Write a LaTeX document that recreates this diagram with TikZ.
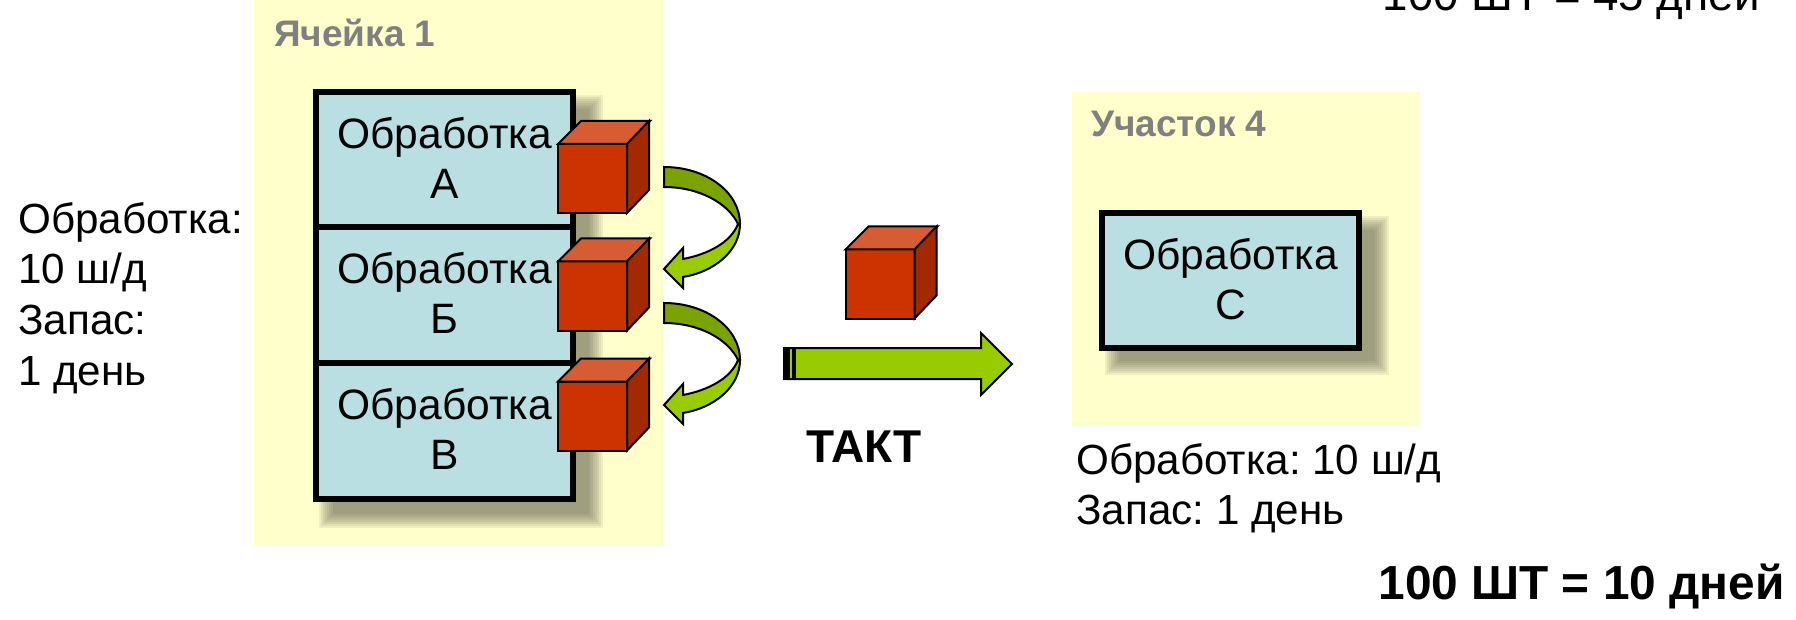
\documentclass[tikz,border=0pt]{standalone}
\usepackage{fontspec}
\setmainfont{Liberation Sans}
\usetikzlibrary{positioning,calc}
\frenchspacing

\definecolor{cellyellow}{HTML}{FFFFCC}
\definecolor{blockblue}{HTML}{B9DFE3}
\definecolor{cubefront}{HTML}{CC3300}
\definecolor{cubetop}{HTML}{D65C33}
\definecolor{cubeside}{HTML}{A32900}
\definecolor{arrowgreen}{HTML}{99CC00}
\definecolor{arrowdark}{HTML}{7AA300}
\definecolor{labelgrey}{HTML}{808080}

% front face is a node, top and side hang on it
\newcommand{\partcube}[2]{
	\node [cube] (#1) at (#2) {};
	\draw [cubeline, fill=cubetop] (#1.north west) -- ++(23,-23) -- ++(69,0) -- (#1.north east) -- cycle;
	\draw [cubeline, fill=cubeside] (#1.north east) -- ++(22,-23) -- ++(0,69) -- (#1.south east) -- cycle;
}
\newcommand{\turnarrow}[1]{
	\begin{scope}[shift={(#1)}]
		\draw [cubeline, fill=arrowdark] (0,0) .. controls (42,0) and (76,25) .. (76,57) -- (74,57) .. controls (64,36) and (35,20) .. (0,20) -- cycle;
		\draw [cubeline, fill=arrowgreen] (76,57) .. controls (76,84) and (50,105) .. (19,110) -- (19,121) -- (0,102) -- (19,81) -- (19,92) .. controls (45,87) and (67,75) .. (74,57) -- cycle;
	\end{scope}
}
\newcommand{\softshadow}[2]{
	\foreach \k in {0,2,...,14}
		\fill [black!60!cellyellow, opacity=0.11] ($(#1)+(3+\k,3+\k)$) rectangle ($(#2)+(30-\k,29-\k)$);
}

\begin{document}
\begin{tikzpicture}[x=1pt,y=-1pt]
	\tikzstyle{cell} = [fill=cellyellow, draw=none, inner sep=0pt, outer sep=0pt]
	\tikzstyle{block} = [rectangle, draw, line width=6pt, fill=blockblue, align=center, inner sep=0pt, outer sep=0pt, minimum width=257pt, font=\fontsize{42.5}{50}\selectfont, execute at end node={\rule[-4pt]{0pt}{4pt}}]
	\tikzstyle{cube} = [rectangle, draw, line width=2pt, fill=cubefront, inner sep=0pt, outer sep=0pt, minimum width=69pt, minimum height=69pt]
	\tikzstyle{cubeline} = [draw, line width=2pt, line join=miter]
	\tikzstyle{note} = [align=left, inner sep=0pt, anchor=north west, font=\fontsize{42.2}{50.7}\selectfont]
	\tikzstyle{title} = [inner sep=0pt, anchor=north west, text=labelgrey, font=\fontsize{37}{40}\selectfont\bfseries]
	\tikzstyle{result} = [inner sep=0pt, font=\fontsize{47.8}{54}\selectfont\bfseries]

	\useasboundingbox (0,0) rectangle (1796,620);

	\node [cell, minimum width=409pt, minimum height=545pt, anchor=north west] (cell) at (254,0) {};
	\node [cell, minimum width=348pt, minimum height=334pt, anchor=north west] (area) at (1072,92) {};
	\node [title] (celltitle) at (274,18.5) {Ячейка 1};
	\node [title] (areatitle) at (1091,110.5) {Участок 4};

	\softshadow{316,92}{573,499}
	\softshadow{1102,213}{1359,346}

	\node [block, minimum height=135.5pt, anchor=north west] (proca) at (316,92) {Обработка \\ А};
	\node [block, minimum height=135.5pt, below=0pt of proca] (procb) {Обработка \\ Б};
	\node [block, minimum height=135.5pt, below=0pt of procb] (procv) {Обработка \\ В};
	\node [block, minimum height=135pt, anchor=north west] (procc) at (1102,213) {Обработка \\ С};

	\partcube{cubea}{592.5,178.5}
	\partcube{cubeb}{592.5,296}
	\partcube{cubev}{592.5,416}
	\partcube{cubemove}{880,284}

	\turnarrow{664,167}
	\turnarrow{664,303}

	% takt arrow with its striped tail
	\draw [cubeline, fill=arrowgreen] (784,348) -- (981,348) -- (981,333) -- (1012,364) -- (981,395) -- (981,379) -- (784,379) -- cycle;
	\fill (784,348) rectangle (790,379);
	\fill (792,348) rectangle (796,379);

	\node [note] (lefttext) at (18,202) {Обработка:\\10 ш/д\\Запас:\\1 день};
	\node [note] (areatext) at (1076,443) {Обработка: 10 ш/д\\Запас: 1 день};
	\node [result, font=\fontsize{46}{50}\selectfont\bfseries] (takt) at (864,447) {ТАКТ};
	\node [result, anchor=base east, font=\fontsize{45.7}{50}\selectfont] (before) at (1760,11) {100 ШТ = 45 дней};
	\node [result, anchor=east] (after) at (1785,586) {100 ШТ = 10 дней};
\end{tikzpicture}
\end{document}
